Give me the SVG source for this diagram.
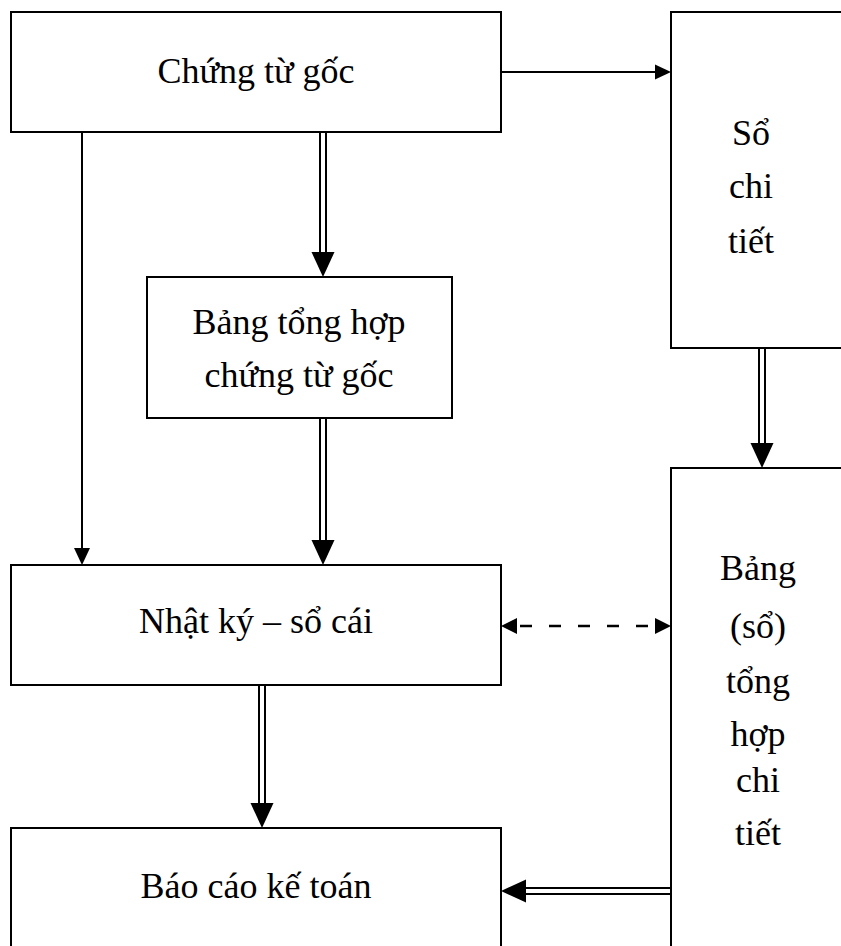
<svg xmlns="http://www.w3.org/2000/svg" width="841" height="946" viewBox="0 0 841 946">
  <style>
    .box { fill: #fff; stroke: #000; stroke-width: 2; }
    .lbl { font-family: "Liberation Serif", "Times New Roman", serif; font-size: 36px; fill: #000; text-anchor: middle; }
    .ln { stroke: #000; stroke-width: 2; fill: none; }
    .dash { stroke: #000; stroke-width: 2.4; fill: none; stroke-dasharray: 12 17; }
    .head { fill: #000; }
  </style>
  <rect width="841" height="946" fill="#fff"/>

  <g id="chung-tu-goc">
    <rect class="box" x="11" y="12" width="490" height="120"/>
    <text class="lbl" x="256" y="83">Chứng từ gốc</text>
  </g>

  <g id="so-chi-tiet">
    <rect class="box" x="671" y="12" width="190" height="336"/>
    <text class="lbl" x="751" y="145">Sổ</text>
    <text class="lbl" x="751" y="198">chi</text>
    <text class="lbl" x="751" y="253">tiết</text>
  </g>

  <g id="bang-tong-hop-chung-tu-goc">
    <rect class="box" x="147" y="277" width="305" height="141"/>
    <text class="lbl" x="299" y="334">Bảng tổng hợp</text>
    <text class="lbl" x="299" y="387">chứng từ gốc</text>
  </g>

  <g id="nhat-ky-so-cai">
    <rect class="box" x="11" y="565" width="490" height="120"/>
    <text class="lbl" x="256" y="633">Nhật ký – sổ cái</text>
  </g>

  <g id="bang-so-tong-hop-chi-tiet">
    <rect class="box" x="671" y="468" width="190" height="500"/>
    <text class="lbl" x="758" y="580">Bảng</text>
    <text class="lbl" x="758" y="638">(sổ)</text>
    <text class="lbl" x="758" y="693">tổng</text>
    <text class="lbl" x="758" y="746">hợp</text>
    <text class="lbl" x="758" y="792">chi</text>
    <text class="lbl" x="758" y="845">tiết</text>
  </g>

  <g id="bao-cao-ke-toan">
    <rect class="box" x="11" y="828" width="490" height="140"/>
    <text class="lbl" x="256" y="898">Báo cáo kế toán</text>
  </g>

  <g id="connectors">
    <!-- Chứng từ gốc → Sổ chi tiết -->
    <line class="ln" x1="501" y1="72" x2="657" y2="72"/>
    <polygon class="head" points="671,72 655,64.5 655,79.5"/>

    <!-- Chứng từ gốc → Nhật ký – sổ cái -->
    <line class="ln" x1="82" y1="132" x2="82" y2="550"/>
    <polygon class="head" points="82,565 74,548 90,548"/>

    <!-- Chứng từ gốc ⇒ Bảng tổng hợp chứng từ gốc -->
    <line class="ln" x1="320" y1="132" x2="320" y2="254"/>
    <line class="ln" x1="326" y1="132" x2="326" y2="254"/>
    <polygon class="head" points="323,277 311.5,252 334.5,252"/>

    <!-- Bảng tổng hợp chứng từ gốc ⇒ Nhật ký – sổ cái -->
    <line class="ln" x1="320" y1="418" x2="320" y2="542"/>
    <line class="ln" x1="326" y1="418" x2="326" y2="542"/>
    <polygon class="head" points="323,565 311.5,540 334.5,540"/>

    <!-- Nhật ký – sổ cái ⇒ Báo cáo kế toán -->
    <line class="ln" x1="259" y1="685" x2="259" y2="805"/>
    <line class="ln" x1="265" y1="685" x2="265" y2="805"/>
    <polygon class="head" points="262,828 250.5,803 273.5,803"/>

    <!-- Sổ chi tiết ⇒ Bảng (sổ) tổng hợp chi tiết -->
    <line class="ln" x1="759" y1="348" x2="759" y2="445"/>
    <line class="ln" x1="765" y1="348" x2="765" y2="445"/>
    <polygon class="head" points="762,468 750.5,443 773.5,443"/>

    <!-- Nhật ký – sổ cái ↔ Bảng (sổ) tổng hợp chi tiết -->
    <line class="dash" x1="520" y1="626" x2="654" y2="626"/>
    <polygon class="head" points="501,626 517,618 517,634"/>
    <polygon class="head" points="671,626 655,618 655,634"/>

    <!-- Bảng (sổ) tổng hợp chi tiết ⇒ Báo cáo kế toán -->
    <line class="ln" x1="524" y1="888" x2="671" y2="888"/>
    <line class="ln" x1="524" y1="894" x2="671" y2="894"/>
    <polygon class="head" points="501,891 526,879.5 526,902.5"/>
  </g>
</svg>
